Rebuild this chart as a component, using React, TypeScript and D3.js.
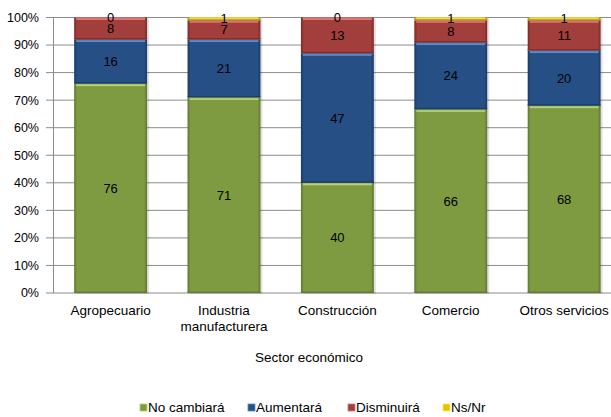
import React from "react";
import * as d3 from "d3";

const categories = ["Agropecuario", "Industria\nmanufacturera", "Construcción", "Comercio", "Otros servicios"];
const seriesNames = ["No cambiará", "Aumentará", "Disminuirá", "Ns/Nr"];
const noCambiara = [76, 71, 40, 66, 68];
const aumentara = [16, 21, 47, 24, 20];
const disminuira = [8, 7, 13, 8, 11];
const nsnr = [0, 1, 0, 1, 1];
const yTicks = [0, 0.1, 0.2, 0.3, 0.4, 0.5, 0.6, 0.7, 0.8, 0.9, 1];
const colors = ["#7E9B42", "#264F86", "#A23E3B", "#E6C300"];
const lightColors = ["#B5D36E", "#5B8CCB", "#DA7673", "#FFE860"];
const darkColors = ["#5E7530", "#1A3A64", "#7A2B29", "#B89A00"];

export default function App() {
  const W = 611, H = 417;
  const series = [noCambiara, aumentara, disminuira, nsnr];
  const x = d3.scaleBand<string>().domain(categories).range([53.75, 621]).paddingInner(0.357).paddingOuter(0.18);
  const y = d3.scaleLinear().domain([0, 1]).range([293, 17.5]);
  const rows = categories.map((c, i) => {
    const obj: any = { cat: c };
    seriesNames.forEach((s, k) => (obj[s] = series[k][i]));
    return obj;
  });
  const stacked = d3.stack<any>().keys(seriesNames).offset(d3.stackOffsetExpand)(rows);
  const fmt = d3.format(".0%");
  const font = "Arial, 'Liberation Sans', sans-serif";
  const legendX = [140, 248, 348, 443];

  return (
    <svg width={W} height={H} style={{ position: "fixed", left: 0, top: 0, background: "#fff" }} fontFamily={font}>
      <defs>
        {colors.map((c, k) => (
          <linearGradient key={k} id={`g${k}`} x1="0" x2="1" y1="0" y2="0">
            <stop offset="0" stopColor={darkColors[k]} />
            <stop offset="0.04" stopColor={c} />
            <stop offset="0.96" stopColor={c} />
            <stop offset="1" stopColor={darkColors[k]} />
          </linearGradient>
        ))}
      </defs>
      {yTicks.map((t) => (
        <g key={t}>
          <line x1={46} x2={W} y1={y(t)} y2={y(t)} stroke="#8C8C8C" strokeWidth={1} />
          <text x={39} y={y(t)} dy="0.35em" textAnchor="end" fontSize={12.5} fill="#000">{fmt(t)}</text>
        </g>
      ))}
      <line x1={53.5} x2={53.5} y1={y(1)} y2={y(0)} stroke="#8C8C8C" />
      {stacked.map((layer, k) => (
        <g key={k}>
          {layer.map((d, i) => {
            const bx = x(categories[i])!;
            const bw = x.bandwidth();
            const y0 = y(d[0]);
            const y1 = y(d[1]);
            const h = Math.max(0, y0 - y1);
            return (
              <g key={i}>
                <rect x={bx + 2} y={y1 + 1} width={bw} height={h} fill="#000" opacity={0.12} />
                <rect x={bx} y={y1} width={bw} height={h} fill={`url(#g${k})`} />
                {h > 2 && <rect x={bx + 2} y={y1} width={bw - 4} height={Math.min(2.5, h)} fill={lightColors[k]} />}
                {h > 2 && <rect x={bx} y={y0 - 1.5} width={bw} height={1.5} fill={darkColors[k]} opacity={0.8} />}
              </g>
            );
          })}
        </g>
      ))}
      {stacked.map((layer, k) => (
        <g key={"l" + k}>
          {layer.map((d, i) => {
            const cx = x(categories[i])! + x.bandwidth() / 2;
            const cy = y((d[0] + d[1]) / 2);
            return (
              <text key={i} x={cx} y={cy} dy="0.35em" textAnchor="middle" fontSize={13} fill="#000">
                {series[k][i]}
              </text>
            );
          })}
        </g>
      ))}
      {categories.map((c) => (
        <text key={c} x={x(c)! + x.bandwidth() / 2} y={315} textAnchor="middle" fontSize={13.5} fill="#000">
          {c.split("\n").map((line, j) => (
            <tspan key={j} x={x(c)! + x.bandwidth() / 2} dy={j === 0 ? 0 : 15.5}>{line}</tspan>
          ))}
        </text>
      ))}
      <text x={309} y={362} textAnchor="middle" fontSize={13.5} fill="#000">Sector económico</text>
      {seriesNames.map((s, k) => (
        <g key={s}>
          <rect x={legendX[k]} y={404} width={7} height={7} fill={colors[k]} stroke={lightColors[k]} strokeWidth={0.8} />
          <text x={legendX[k] + 8} y={412} fontSize={13.5} fill="#000">{s}</text>
        </g>
      ))}
    </svg>
  );
}
